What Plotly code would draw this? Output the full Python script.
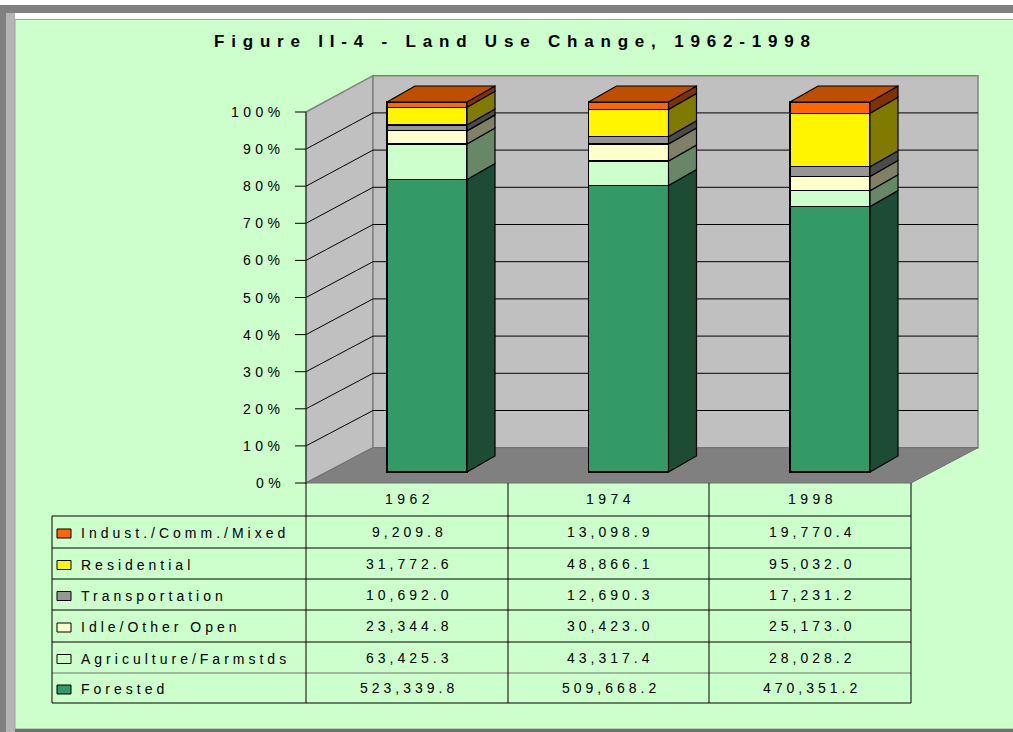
import plotly.graph_objects as go
import numpy as np

# ---------------- data ----------------
years = ["1962", "1974", "1998"]
# series listed bottom -> top of the stack
series_names = ["Forested", "Agriculture/Farmstds", "Idle/Other Open",
                "Transportation", "Residential", "Indust./Comm./Mixed"]
forested = [523339.8, 509668.2, 470351.2]
agriculture = [63425.3, 43317.4, 28028.2]
idle_open = [23344.8, 30423.0, 25173.0]
transportation = [10692.0, 12690.3, 17231.2]
residential = [31772.6, 48866.1, 95032.0]
industrial = [9209.8, 13098.9, 19770.4]
series_values = [forested, agriculture, idle_open, transportation, residential, industrial]
y_ticks = [0, 10, 20, 30, 40, 50, 60, 70, 80, 90, 100]

# ---------------- styles ----------------
front_colors = ["#339966", "#CCFFCC", "#FFFFCC", "#969696", "#FFF500", "#FF6600"]
side_colors = ["#1C4C34", "#668866", "#808066", "#4B4B4B", "#807B00", "#803300"]
top_color = "#BF4F00"
BG = "#CCFFCC"
FONT = "Liberation Sans, Arial, sans-serif"

W, H = 1013, 732
XC0, XS = 427.0, 201.5      # pixel of first category centre, pixels per category
Y0PX, YS = 472.0, 3.70      # pixel of 0% on bar front, pixels per percent
BW = 80.0 / XS              # bar width in data units
DX = 28.0 / XS              # 3-D depth offset (data units)
DY = 16.0 / YS

FRONT0, FSTEP = 483.0, 3.71   # left-wall front edge: pixel of 0%, px per percent
BACK0, BSTEP = 447.7, 3.72    # back wall
WX_FRONT, WX_BACK, WX_RIGHT, FLOOR_RIGHT = 306.0, 373.0, 978.0, 911.0


def px(x):
    return x / W


def py(y):
    return 1 - y / H


def path(pts):
    return "M " + " L ".join(f"{px(a):.5f},{py(b):.5f}" for a, b in pts) + " Z"


def sp(text, s):
    return f'<span style="letter-spacing:{s}px">{text}</span>'


shapes = []
# ---- frame ----
shapes.append(dict(type="rect", xref="paper", yref="paper", x0=px(0), x1=px(W), y0=py(5), y1=py(13),
                   fillcolor="#808080", line=dict(width=0), layer="below"))
shapes.append(dict(type="rect", xref="paper", yref="paper", x0=px(0), x1=px(6), y0=py(5), y1=py(H),
                   fillcolor="#808080", line=dict(width=0), layer="below"))
shapes.append(dict(type="rect", xref="paper", yref="paper", x0=px(6), x1=px(15), y0=py(13), y1=py(H),
                   fillcolor="#B4B4B4", line=dict(width=0), layer="below"))
shapes.append(dict(type="rect", xref="paper", yref="paper", x0=px(15), x1=px(W + 2), y0=py(19.5), y1=py(729),
                   fillcolor=BG, line=dict(color="#A0A0A0", width=1), layer="below"))
shapes.append(dict(type="rect", xref="paper", yref="paper", x0=px(15), x1=px(W), y0=py(729), y1=py(H),
                   fillcolor="#707070", line=dict(width=0), layer="below"))

# ---- walls and floor ----
wall_line = dict(color="#808080", width=1.5)
shapes.append(dict(type="path", xref="paper", yref="paper", layer="below", fillcolor="#C0C0C0", line=wall_line,
                   path=path([(WX_FRONT, FRONT0 - 100 * FSTEP), (WX_BACK, BACK0 - 100 * BSTEP),
                              (WX_BACK, BACK0), (WX_FRONT, FRONT0)])))
shapes.append(dict(type="path", xref="paper", yref="paper", layer="below", fillcolor="#C0C0C0", line=wall_line,
                   path=path([(WX_BACK, BACK0 - 100 * BSTEP), (WX_RIGHT, BACK0 - 100 * BSTEP),
                              (WX_RIGHT, BACK0), (WX_BACK, BACK0)])))
shapes.append(dict(type="path", xref="paper", yref="paper", layer="below", fillcolor="#808080",
                   line=dict(color="#707070", width=1),
                   path=path([(WX_FRONT, FRONT0), (WX_BACK, BACK0), (WX_RIGHT, BACK0), (FLOOR_RIGHT, FRONT0)])))

# ---- gridlines / ticks ----
for v in y_ticks:
    yf = FRONT0 - v * FSTEP
    yb = BACK0 - v * BSTEP
    shapes.append(dict(type="line", xref="paper", yref="paper", layer="below",
                       x0=px(WX_FRONT - 11), x1=px(WX_FRONT), y0=py(yf), y1=py(yf),
                       line=dict(color="black", width=1)))
    if 0 < v < 100:
        shapes.append(dict(type="line", xref="paper", yref="paper", layer="below",
                           x0=px(WX_FRONT), x1=px(WX_BACK), y0=py(yf), y1=py(yb),
                           line=dict(color="black", width=1)))
        shapes.append(dict(type="line", xref="paper", yref="paper", layer="below",
                           x0=px(WX_BACK), x1=px(WX_RIGHT), y0=py(yb), y1=py(yb),
                           line=dict(color="black", width=1)))
shapes.append(dict(type="line", xref="paper", yref="paper", layer="below",
                   x0=px(WX_FRONT), x1=px(WX_FRONT), y0=py(FRONT0 - 100 * FSTEP), y1=py(FRONT0),
                   line=dict(color="#202020", width=1)))

# ---- data table lines ----
TBL_L, COLS = 52.0, [306.0, 508.0, 709.0, 911.0]
ROWS = [483.0, 516.0, 548.0, 579.0, 610.0, 642.0, 673.0, 703.0]
for k, yv in enumerate(ROWS[1:], start=1):
    col = "#707070" if k == 6 else "black"
    shapes.append(dict(type="line", xref="paper", yref="paper", x0=px(TBL_L), x1=px(COLS[-1]),
                       y0=py(yv), y1=py(yv), line=dict(color=col, width=1)))
for xv in COLS:
    shapes.append(dict(type="line", xref="paper", yref="paper", x0=px(xv), x1=px(xv),
                       y0=py(ROWS[0]), y1=py(ROWS[-1]), line=dict(color="black", width=1)))
shapes.append(dict(type="line", xref="paper", yref="paper", x0=px(TBL_L), x1=px(TBL_L),
                   y0=py(ROWS[1]), y1=py(ROWS[-1]), line=dict(color="black", width=1)))

# ---------------- traces ----------------
xs = np.arange(len(years), dtype=float)
vals = np.array(series_values, dtype=float)
pct = vals / vals.sum(axis=0) * 100
cum = np.cumsum(pct, axis=0)
bottoms = cum - pct

fig = go.Figure()
for name, v, c in zip(series_names, series_values, front_colors):
    fig.add_trace(go.Bar(x=xs, y=v, name=name, width=BW,
                         marker=dict(color=c, line=dict(color="black", width=1.2)),
                         hoverinfo="skip"))

for j, name in enumerate(series_names):
    sx, sy = [], []
    for i, x in enumerate(xs):
        xr = x + BW / 2
        b, t = bottoms[j, i], cum[j, i]
        sx += [xr, xr + DX, xr + DX, xr, xr, None]
        sy += [b, b + DY, t + DY, t, b, None]
    fig.add_trace(go.Scatter(x=sx, y=sy, mode="lines", fill="toself", fillcolor=side_colors[j],
                             line=dict(color="black", width=1.2), hoverinfo="skip", showlegend=False))

tx, ty = [], []
for i, x in enumerate(xs):
    xl, xr = x - BW / 2, x + BW / 2
    top = cum[-1, i]
    tx += [xl, xr, xr + DX, xl + DX, xl, None]
    ty += [top, top, top + DY, top + DY, top, None]
fig.add_trace(go.Scatter(x=tx, y=ty, mode="lines", fill="toself", fillcolor=top_color,
                         line=dict(color="black", width=1.2), hoverinfo="skip", showlegend=False))

# ---------------- annotations ----------------
ann = []
ann.append(dict(x=px(515), y=py(42), xref="paper", yref="paper", showarrow=False,
                text=sp("<b>Figure II-4 - Land Use Change, 1962-1998</b>", 6.8),
                font=dict(family=FONT, size=17, color="black"), xanchor="center", yanchor="middle"))
for v in y_ticks:
    ann.append(dict(x=px(287), y=py(FRONT0 - v * FSTEP), xref="paper", yref="paper", showarrow=False,
                    text=sp(f"{v}%", 4.5), font=dict(family=FONT, size=14, color="black"),
                    xanchor="right", yanchor="middle"))
for i, yr in enumerate(years):
    cx = (COLS[i] + COLS[i + 1]) / 2 + 2
    ann.append(dict(x=px(cx), y=py((ROWS[0] + ROWS[1]) / 2), xref="paper", yref="paper", showarrow=False,
                    text=sp(yr, 4.5), font=dict(family=FONT, size=14, color="black"),
                    xanchor="center", yanchor="middle"))
for r, j in enumerate(range(len(series_names) - 1, -1, -1)):
    cy = (ROWS[r + 1] + ROWS[r + 2]) / 2
    shapes.append(dict(type="rect", xref="paper", yref="paper", x0=px(57), x1=px(71),
                       y0=py(cy - 3), y1=py(cy + 6), fillcolor=front_colors[j],
                       line=dict(color="black", width=1)))
    ann.append(dict(x=px(79), y=py(cy + 1), xref="paper", yref="paper", showarrow=False,
                    text=sp(series_names[j], 4), font=dict(family=FONT, size=14, color="black"),
                    xanchor="left", yanchor="middle"))
    for i in range(len(years)):
        cx = (COLS[i] + COLS[i + 1]) / 2 + 2
        ann.append(dict(x=px(cx), y=py(cy), xref="paper", yref="paper", showarrow=False,
                        text=sp(f"{series_values[j][i]:,.1f}", 4), font=dict(family=FONT, size=14, color="black"),
                        xanchor="center", yanchor="middle"))

fig.update_layout(
    width=W, height=H, margin=dict(l=0, r=0, t=0, b=0),
    paper_bgcolor="white", plot_bgcolor="rgba(0,0,0,0)",
    barmode="stack", barnorm="percent", showlegend=False,
    xaxis=dict(range=[(0 - XC0) / XS, (W - XC0) / XS], visible=False, domain=[0, 1], fixedrange=True),
    yaxis=dict(range=[(Y0PX - H) / YS, Y0PX / YS], visible=False, domain=[0, 1], fixedrange=True),
    shapes=shapes, annotations=ann,
)

fig.write_html("out.html", config={"displayModeBar": False},
               post_script="document.body.style.margin='0';document.body.style.overflow='hidden';")
